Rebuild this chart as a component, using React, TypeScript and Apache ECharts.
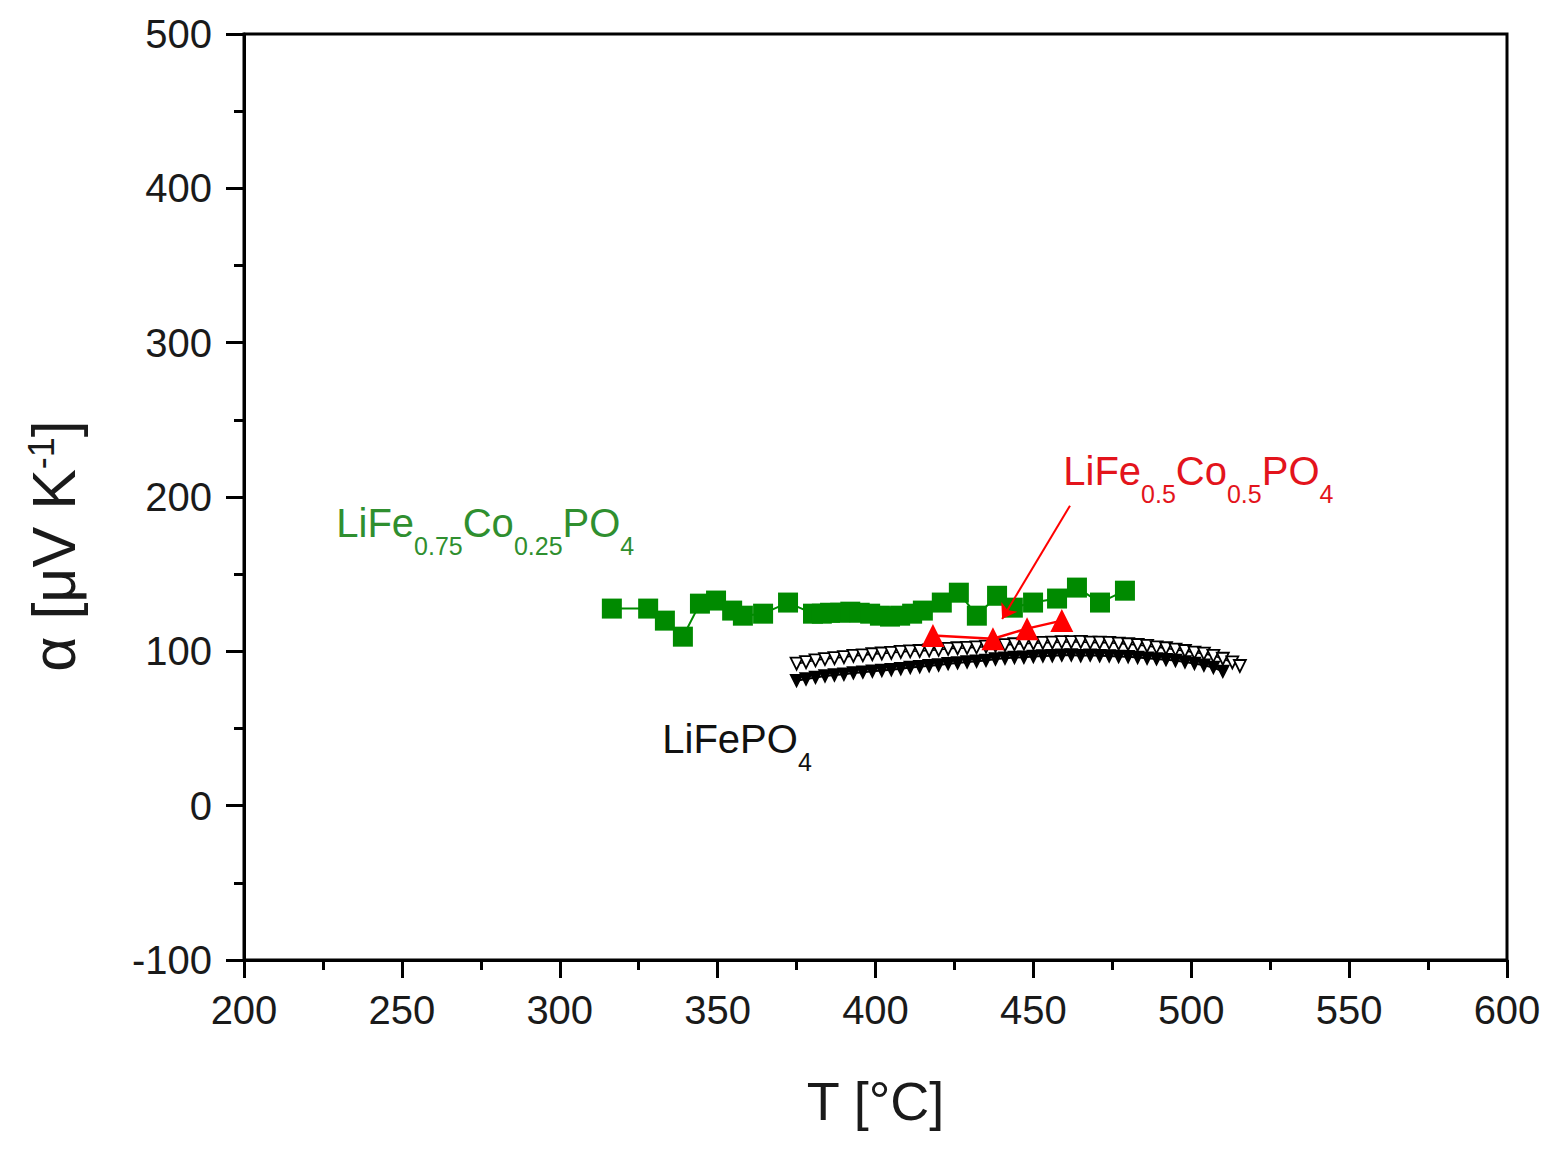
import React, { useEffect, useRef } from "react";
import * as echarts from "echarts";

const FONT = "'Liberation Sans', Arial, Helvetica, sans-serif";

// LiFe0.75Co0.25PO4 (green squares): [T °C, alpha µV/K]
const greenData: number[][] = [
  [316.5, 127.7], [328, 127.7], [333.3, 119.9], [339, 109.5], [344.4, 130.9],
  [349.5, 132.9], [354.6, 126.4], [358, 123.1], [364.4, 124.4], [372.3, 131.6],
  [380.2, 124.4], [383, 124.4], [385.6, 125], [388.8, 125], [392, 125.7],
  [395, 125], [398.3, 124.4], [401.4, 123.1], [404.6, 122.5], [407.8, 123.1],
  [411.6, 124.4], [415, 126.4], [421, 131.6], [426.4, 138], [432.1, 123.1],
  [438.5, 136], [443.5, 128.3], [449.9, 131.6], [457.5, 134.2], [463.8, 141.3],
  [471.1, 131.6], [479, 139.3],
];

// LiFe0.5Co0.5PO4 (red triangles)
const redData: number[][] = [
  [418.2, 110.2], [437.2, 108.2], [448, 114.7], [459, 119.9],
];

// LiFePO4 open down-triangles (upper branch)
const openData: number[][] = [
  [375, 92], [378, 93], [381, 94.2], [384, 95], [387, 95.6], [390, 96.2],
  [393, 97], [396, 97.4], [399, 98.1], [402, 98.6], [405, 99], [408, 99.6],
  [411, 100], [414, 100.2], [417, 100.6], [420, 101], [423, 101.6], [426, 102],
  [429, 102.2], [432, 102.6], [435, 103], [438, 103.6], [441, 104], [444, 104.6],
  [447, 105], [450, 105.1], [453, 105.5], [456, 105.6], [459, 106], [462, 106],
  [465, 106.1], [468, 105.7], [471, 105.6], [474, 105.5], [477, 105], [480, 104.6],
  [483, 104.1], [486, 103.5], [489, 102.6], [492, 102], [495, 101.1], [498, 100.2],
  [501, 99.2], [504, 98.5], [507, 97.1], [510, 95.2], [513, 92.8], [515.4, 90.5],
];

// LiFePO4 filled down-triangles (lower branch)
const filledData: number[][] = [
  [375, 81], [378, 82], [381, 83.1], [384, 84], [387, 84.6], [390, 85.1],
  [393, 86], [396, 86.5], [399, 87.1], [402, 87.6], [405, 88.1], [408, 88.7],
  [411, 89.5], [414, 90], [417, 90.6], [420, 91.1], [423, 92], [426, 92.5],
  [429, 93.1], [432, 93.6], [435, 94.1], [438, 95], [441, 95.5], [444, 96],
  [447, 96.1], [450, 96.6], [453, 97], [456, 97.1], [459, 97.5], [462, 97.6],
  [465, 97.1], [468, 97.5], [471, 97.1], [474, 97], [477, 96.6], [480, 96.5],
  [483, 96], [486, 95.5], [489, 95.1], [492, 94.6], [495, 94], [498, 93.1],
  [501, 92.1], [504, 91], [507, 89.5], [510, 87],
];

// annotation arrow for LiFe0.5Co0.5PO4 (data coordinates)
const arrowStart = [461.6, 194.4];
const arrowEnd = [440.1, 121];

const xTicks = { min: 200, max: 600, interval: 50 };
const yTicks = { min: -100, max: 500, interval: 100 };

const GREEN = "#008a00";
const GREEN_TEXT = "#2f8f2f";
const RED = "#ff0000";
const RED_TEXT = "#e3141c";

function labelRich(fill: string) {
  return {
    m: { fontSize: 40, lineHeight: 40, fontFamily: FONT, fill, verticalAlign: "top" },
    s: { fontSize: 25, lineHeight: 25, fontFamily: FONT, fill, verticalAlign: "bottom" },
    h: { fontSize: 1, lineHeight: 55, fontFamily: FONT, fill, verticalAlign: "middle" },
  };
}

export default function App() {
  const ref = useRef<HTMLDivElement>(null);
  useEffect(() => {
    if (!ref.current) return;
    const chart = echarts.init(ref.current, undefined, { renderer: "svg" });
    const axisCommon = {
      type: "value" as const,
      axisLine: { show: true, onZero: false, lineStyle: { color: "#000", width: 3 } },
      axisTick: { show: true, inside: false, length: 18, lineStyle: { color: "#000", width: 3 } },
      minorTick: { show: true, splitNumber: 2, length: 10, lineStyle: { color: "#000", width: 3 } },
      splitLine: { show: false },
      minorSplitLine: { show: false },
    };
    chart.setOption({
      animation: false,
      backgroundColor: "#fff",
      grid: { left: 244, right: 51, top: 34, bottom: 197, show: true, borderColor: "#000", borderWidth: 3, containLabel: false },
      xAxis: {
        ...axisCommon,
        min: xTicks.min,
        max: xTicks.max,
        interval: xTicks.interval,
        axisLabel: { fontSize: 40, margin: 30, color: "#1a1a1a", fontFamily: FONT },
        name: "T [°C]",
        nameLocation: "middle",
        nameGap: 114,
        nameTextStyle: { fontSize: 54, color: "#1a1a1a", fontFamily: FONT, lineHeight: 54 },
      },
      yAxis: {
        ...axisCommon,
        min: yTicks.min,
        max: yTicks.max,
        interval: yTicks.interval,
        axisLabel: { fontSize: 40, margin: 32, color: "#1a1a1a", fontFamily: FONT },
      },
      graphic: [
        {
          type: "text",
          x: 54,
          y: 546,
          rotation: Math.PI / 2,
          style: {
            text: "{m|α [μV K}{p|-1}{m|]}",
            align: "center",
            verticalAlign: "middle",
            rich: {
              m: { fontSize: 61, lineHeight: 61, fontFamily: FONT, fill: "#1a1a1a", verticalAlign: "bottom" },
              p: { fontSize: 36, lineHeight: 36, fontFamily: FONT, fill: "#1a1a1a", verticalAlign: "top", padding: [0, 0, 38, 0] },
            },
          },
        },
        {
          type: "text",
          x: 336,
          y: 503,
          style: {
            text: "{h| }{m|LiFe}{s|0.75}{m|Co}{s|0.25}{m|PO}{s|4}",
            align: "left",
            verticalAlign: "top",
            rich: labelRich(GREEN_TEXT),
          },
        },
        {
          type: "text",
          x: 1063,
          y: 451,
          style: {
            text: "{h| }{m|LiFe}{s|0.5}{m|Co}{s|0.5}{m|PO}{s|4}",
            align: "left",
            verticalAlign: "top",
            rich: labelRich(RED_TEXT),
          },
        },
        {
          type: "text",
          x: 662,
          y: 719,
          style: {
            text: "{h| }{m|LiFePO}{s|4}",
            align: "left",
            verticalAlign: "top",
            rich: labelRich("#111"),
          },
        },
      ],
      series: [
        {
          name: "LiFePO4 (open)",
          type: "line",
          data: openData,
          symbol: "triangle",
          symbolRotate: 180,
          symbolSize: 12,
          showAllSymbol: true,
          lineStyle: { color: "#000", width: 1.5 },
          itemStyle: { color: "#fff", borderColor: "#000", borderWidth: 1.8 },
          z: 2,
        },
        {
          name: "LiFePO4 (filled)",
          type: "line",
          data: filledData,
          symbol: "triangle",
          symbolRotate: 180,
          symbolSize: 12,
          showAllSymbol: true,
          lineStyle: { color: "#000", width: 2 },
          itemStyle: { color: "#000", borderColor: "#000", borderWidth: 1.5 },
          z: 2,
        },
        {
          name: "LiFe0.75Co0.25PO4",
          type: "line",
          data: greenData,
          symbol: "rect",
          symbolSize: 20,
          showAllSymbol: true,
          lineStyle: { color: GREEN, width: 2 },
          itemStyle: { color: GREEN },
          z: 3,
        },
        {
          name: "LiFe0.5Co0.5PO4",
          type: "line",
          data: redData,
          symbol: "triangle",
          symbolSize: 23,
          showAllSymbol: true,
          lineStyle: { color: RED, width: 2.5 },
          itemStyle: { color: RED },
          z: 4,
          markLine: {
            silent: true,
            symbol: ["none", "arrow"],
            symbolSize: 14,
            label: { show: false },
            lineStyle: { color: RED, width: 2, type: "solid" },
            data: [[{ coord: arrowStart }, { coord: arrowEnd }]],
          },
        },
      ],
    });
    return () => chart.dispose();
  }, []);
  return <div ref={ref} style={{ position: "absolute", left: 0, top: 0, width: 1558, height: 1157 }} />;
}
